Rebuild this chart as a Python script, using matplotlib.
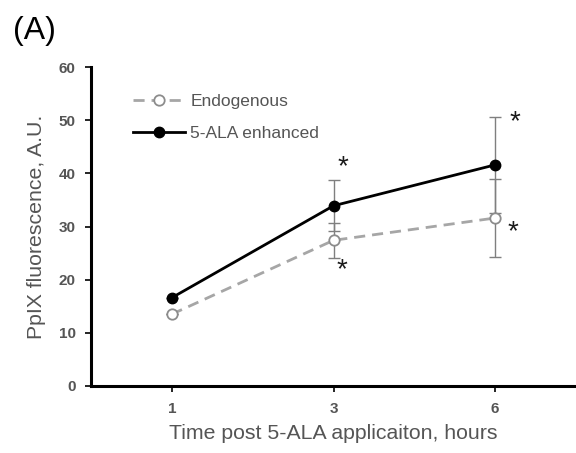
import matplotlib
matplotlib.use("Agg")
import matplotlib.pyplot as plt

plt.rcParams['font.family'] = ['Liberation Sans', 'DejaVu Sans']

# PpIX fluorescence after 5-ALA application
hours = ["1", "3", "6"]
endogenous = [13.5, 27.4, 31.6]
endogenous_err = [0, 3.3, 7.4]
enhanced = [16.6, 33.9, 41.6]
enhanced_err = [0, 4.8, 9.0]
# significance markers: (category index, x shift, y value)
stars = [(1, 0.06, 41.1), (1, 0.05, 21.8), (2, 0.12, 49.7), (2, 0.11, 29.0)]

fig = plt.figure(figsize=(5.76, 4.53), dpi=100)
ax = fig.add_axes([0.158, 0.148, 0.842, 0.704])
x = range(len(hours))

ax.errorbar(x, endogenous, yerr=endogenous_err, fmt="none",
            ecolor="#7f7f7f", elinewidth=1, capsize=4, capthick=1, zorder=1)
ax.errorbar(x, enhanced, yerr=enhanced_err, fmt="none",
            ecolor="#7f7f7f", elinewidth=1, capsize=4, capthick=1, zorder=1)
ax.plot(x, endogenous, color="#a6a6a6", ls=(0, (4, 2.5)), lw=2,
        marker="o", ms=7.5, mfc="white", mec="#8c8c8c", mew=1.3,
        label="Endogenous", zorder=2)
ax.plot(x, enhanced, color="black", lw=2, marker="o", ms=7.5,
        mfc="black", mec="black", label="5-ALA enhanced", zorder=3)

for i, dx, yv in stars:
    ax.text(i + dx, yv, "*", fontsize=20, ha="center", va="center",
            color="#1a1a1a")

ax.set_xlim(-0.5, 2.5)
ax.set_ylim(0, 60)
ax.set_yticks(range(0, 61, 10))
ax.set_xticks(list(x))
ax.set_xticklabels(hours)
ax.tick_params(axis="both", labelsize=11, width=1.2, length=4,
               color="black", labelcolor="#555555")
for lab in ax.get_xticklabels() + ax.get_yticklabels():
    lab.set_fontweight("bold")
ax.tick_params(axis="y", pad=7)
ax.tick_params(axis="x", pad=7.5)

for s in ("top", "right"):
    ax.spines[s].set_visible(False)
for s in ("left", "bottom"):
    ax.spines[s].set_linewidth(2.2)

ax.set_ylabel("PpIX fluorescence, A.U.", fontsize=15.3, color="#555555", labelpad=9)
ax.set_xlabel("Time post 5-ALA applicaiton, hours", fontsize=15.3, color="#555555", labelpad=6)

leg = ax.legend(loc="upper left", bbox_to_anchor=(133 / 576, 1 - 94 / 453),
                bbox_transform=fig.transFigure, frameon=False,
                fontsize=12.5, handlelength=3.0, handletextpad=0.3,
                labelspacing=0.95, borderpad=0, borderaxespad=0)
for t in leg.get_texts():
    t.set_color("#555555")

fig.text(0.022, 0.965, "(A)", fontsize=23, color="black", va="top")

fig.savefig("out.png", dpi=100)
